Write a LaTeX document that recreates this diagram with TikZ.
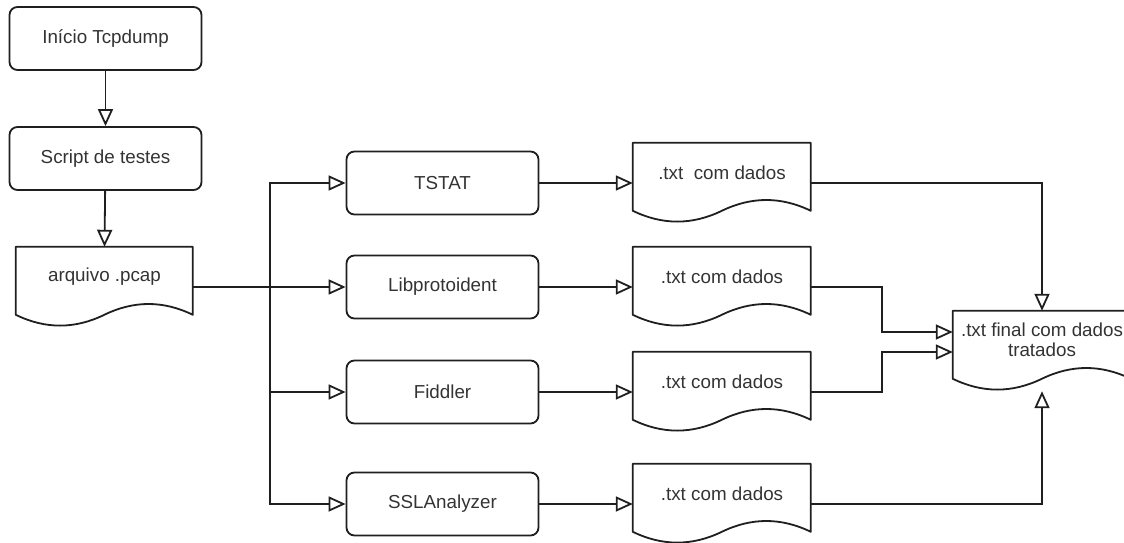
\documentclass[tikz,border=0pt]{standalone}
\usepackage{fontspec}
\setmainfont{Liberation Sans}
\usetikzlibrary{arrows.meta}
\newcommand{\dtext}[1]{\raisebox{10pt}[\height][\depth]{#1}}
\newcommand{\docshape}[2]{%
  \begin{scope}[shift={(#1.north west)}]
    \draw[ln] (0,0) -- (#2,0) -- (#2,68)
      .. controls ({0.8333*#2},53.6) and ({0.6667*#2},53.6) .. ({0.5*#2},68)
      .. controls ({0.3333*#2},82.4) and ({0.1667*#2},82.4) .. (0,68) -- cycle;
  \end{scope}}
\begin{document}
\begin{tikzpicture}[x=1pt,y=-1pt,
  ln/.style={draw=black!88, line width=1.8pt, line join=round},
  txt/.style={font=\fontsize{18.8}{21}\selectfont, text=black!80},
  box/.style={ln, txt, rounded corners=8pt, minimum width=192pt, minimum height=63pt, inner sep=0pt},
  doc/.style={txt, minimum width=178pt, minimum height=80pt, inner sep=0pt},
  arr/.style={draw=black!88, line width=1.8pt, arrows={-{Triangle[open,length=17pt,width=15pt]}}}]
\path[use as bounding box] (0,0) rectangle (1124,543);
\clip (0,0) rectangle (1124,543);

% left column
\node[box] (start) at (105.5,38.5) {Início Tcpdump};
\node[box] (script) at (105.5,158.5) {Script de testes};
\node[doc, minimum width=177pt] (pcap) at (104.5,287) {\dtext{arquivo .pcap}};
\docshape{pcap}{177}

% tools
\node[box] (tstat) at (442.5,183) {TSTAT};
\node[box] (libp) at (442.5,287) {Libprotoident};
\node[box] (fidd) at (442.5,392) {Fiddler};
\node[box] (ssl) at (442.5,504) {SSLAnalyzer};

% output documents
\node[doc] (d1) at (722,183) {\dtext{.txt\ \ com dados}};
\node[doc] (d2) at (722,287) {\dtext{.txt com dados}};
\node[doc] (d3) at (722,392) {\dtext{.txt com dados}};
\node[doc] (d4) at (722,504) {\dtext{.txt com dados}};
\docshape{d1}{178}
\docshape{d2}{178}
\docshape{d3}{178}
\docshape{d4}{178}

% final document
\node[doc] (final) at (1042,351) {\raisebox{9pt}[\height][\depth]{\begin{tabular}{@{}c@{}}.txt final com dados\\[-1pt] tratados\end{tabular}}};
\docshape{final}{178}

% connectors
\coordinate (split) at (270,287);
\draw[arr] (start) -- (script);
\draw[arr] (script) -- (pcap.north);
\draw[arr] (pcap.east) -- (libp.west);
\draw[arr] (pcap.east) -- (split) |- (tstat.west);
\draw[arr] (pcap.east) -- (split) |- (fidd.west);
\draw[arr] (pcap.east) -- (split) |- (ssl.west);

\draw[arr] (tstat) -- (d1);
\draw[arr] (libp) -- (d2);
\draw[arr] (fidd) -- (d3);
\draw[arr] (ssl) -- (d4);

\draw[arr] (d1.east) -| (final.north);
\draw[arr] (d2.east) -- ++(71,0) |- ([yshift=19pt]final.west);
\draw[arr] (d3.east) -- ++(71,0) |- ([yshift=-1pt]final.west);
\draw[arr] (d4.east) -| (final.south);
\end{tikzpicture}
\end{document}
